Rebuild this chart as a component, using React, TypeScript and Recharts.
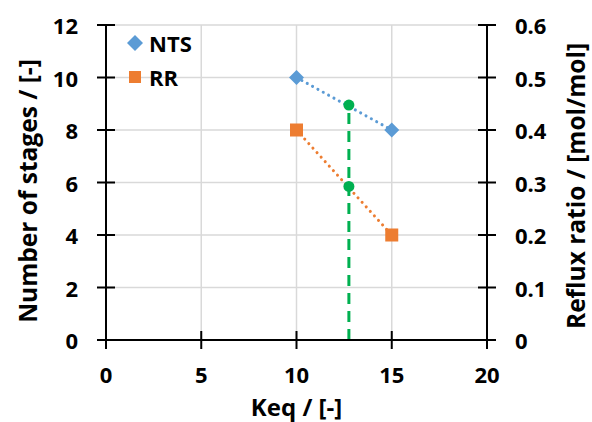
import React from 'react';
import { ComposedChart, Line, XAxis, YAxis, CartesianGrid, Legend } from 'recharts';

const keqNTS = [10, 15];
const ntsValues = [10, 8];
const keqRR = [10, 15];
const rrValues = [0.4, 0.2];
const keqOpt = [12.75, 12.75, 12.75];
const optValues = [0, 5.85, 8.95];
const optHasDot = [false, true, true];

const xTicks = [0, 5, 10, 15, 20];
const leftTicks = [0, 2, 4, 6, 8, 10, 12];
const rightTicks = [0, 0.1, 0.2, 0.3, 0.4, 0.5, 0.6];

const ntsData = keqNTS.map((k, i) => ({ keq: k, nts: ntsValues[i] }));
const rrData = keqRR.map((k, i) => ({ keq: k, rr: rrValues[i] }));
const optData = keqOpt.map((k, i) => ({ keq: k, opt: optValues[i], dot: optHasDot[i] }));

const FONT = '"Open Sans", Lato, sans-serif';
const FS = 22;
const TFS = 24.5;
const BFS = 24;
const TICK = 9;
const MARGIN = 19;

const LeftTick = (p: any) => {
  const ax = p.x + MARGIN + TICK;
  return (
    <g>
      <line x1={ax - TICK} x2={ax + TICK} y1={p.y} y2={p.y} stroke="#000" strokeWidth={2} />
      <text x={p.x} y={p.y} textAnchor="end" dominantBaseline="central" fontFamily={FONT} fontWeight="bold" fontSize={FS} fill="#000">
        {p.payload.value}
      </text>
    </g>
  );
};

const RightTick = (p: any) => {
  const ax = p.x - MARGIN - TICK;
  return (
    <g>
      <line x1={ax - TICK} x2={ax + TICK} y1={p.y} y2={p.y} stroke="#000" strokeWidth={2} />
      <text x={p.x} y={p.y} textAnchor="start" dominantBaseline="central" fontFamily={FONT} fontWeight="bold" fontSize={FS} fill="#000">
        {String(p.payload.value)}
      </text>
    </g>
  );
};

const BottomTick = (p: any) => {
  const ay = p.y - 12 - TICK;
  return (
    <g>
      <line x1={p.x} x2={p.x} y1={ay - TICK} y2={ay + TICK} stroke="#000" strokeWidth={2} />
      <text x={p.x} y={p.y + 22} textAnchor="middle" fontFamily={FONT} fontWeight="bold" fontSize={FS} fill="#000">
        {p.payload.value}
      </text>
    </g>
  );
};

const LeftTitle = (p: any) => {
  const vb = p.viewBox;
  const cx = 27;
  const cy = vb.y + vb.height / 2 + 8.5;
  return (
    <text x={cx} y={cy} transform={`rotate(-90 ${cx} ${cy})`} textAnchor="middle" dominantBaseline="central" fontFamily={FONT} fontWeight="bold" fontSize={TFS} fill="#000">
      Number of stages / [-]
    </text>
  );
};

const RightTitle = (p: any) => {
  const vb = p.viewBox;
  const cx = 575;
  const cy = vb.y + vb.height / 2 + 3.5;
  return (
    <text x={cx} y={cy} transform={`rotate(-90 ${cx} ${cy})`} textAnchor="middle" dominantBaseline="central" fontFamily={FONT} fontWeight="bold" fontSize={TFS} fill="#000">
      Reflux ratio / [mol/mol]
    </text>
  );
};

const BottomTitle = (p: any) => {
  const vb = p.viewBox;
  const cx = vb.x + vb.width / 2;
  return (
    <text x={cx} y={415.5} textAnchor="middle" fontFamily={FONT} fontWeight="bold" fontSize={BFS} fill="#000">
      Keq / [-]
    </text>
  );
};

const Diamond = (p: any) => {
  if (p.cx == null || p.cy == null) return null;
  const r = 7.5;
  return <polygon points={`${p.cx},${p.cy - r} ${p.cx + r},${p.cy} ${p.cx},${p.cy + r} ${p.cx - r},${p.cy}`} fill="#5B9BD5" />;
};

const Square = (p: any) => {
  if (p.cx == null || p.cy == null) return null;
  const s = 6.5;
  return <rect x={p.cx - s} y={p.cy - s} width={2 * s} height={2 * s} fill="#ED7D31" />;
};

const GreenDot = (p: any) => {
  if (p.cx == null || p.cy == null || !p.payload.dot) return <g key={p.key} />;
  return <circle cx={p.cx} cy={p.cy} r={5.5} fill="#00B050" />;
};

const LegendContent = () => (
  <div style={{ fontFamily: FONT, fontWeight: 'bold', fontSize: FS, color: '#000', lineHeight: '34px' }}>
    <div style={{ display: 'flex', alignItems: 'center' }}>
      <svg width={22} height={20}>
        <polygon points="8,2 16,10 8,18 0,10" fill="#5B9BD5" />
      </svg>
      <span>NTS</span>
    </div>
    <div style={{ display: 'flex', alignItems: 'center' }}>
      <svg width={22} height={20}>
        <rect x={2} y={4} width={12} height={12} fill="#ED7D31" />
      </svg>
      <span>RR</span>
    </div>
  </div>
);

export default function App() {
  return (
    <div style={{ position: 'absolute', left: 0, top: 0, width: 592, height: 422, background: '#fff' }}>
      <ComposedChart width={592} height={422} margin={{ top: 25, right: 0, bottom: 0, left: 0 }}>
        <CartesianGrid yAxisId="left" stroke="#d9d9d9" strokeWidth={1.5} />
        <XAxis
          type="number"
          dataKey="keq"
          domain={[0, 20]}
          ticks={xTicks}
          height={82}
          axisLine={{ stroke: '#000', strokeWidth: 2 }}
          tickLine={false}
          tickSize={TICK}
          tickMargin={12}
          tick={<BottomTick />}
          interval={0}
          label={<BottomTitle />}
          allowDuplicatedCategory={false}
        />
        <YAxis
          yAxisId="left"
          orientation="left"
          domain={[0, 12]}
          ticks={leftTicks}
          width={106}
          axisLine={{ stroke: '#000', strokeWidth: 2 }}
          tickLine={false}
          tickSize={TICK}
          tickMargin={MARGIN}
          tick={<LeftTick />}
          interval={0}
          label={<LeftTitle />}
        />
        <YAxis
          yAxisId="right"
          orientation="right"
          domain={[0, 0.6]}
          ticks={rightTicks}
          width={105}
          axisLine={{ stroke: '#000', strokeWidth: 2 }}
          tickLine={false}
          tickSize={TICK}
          tickMargin={MARGIN}
          tick={<RightTick />}
          interval={0}
          label={<RightTitle />}
        />
        <Legend
          layout="vertical"
          align="center"
          verticalAlign="middle"
          content={<LegendContent />}
          wrapperStyle={{ position: 'absolute', left: 127, top: 26, width: 100, height: 70 }}
        />
        <Line
          yAxisId="left"
          data={ntsData}
          dataKey="nts"
          name="NTS"
          stroke="#5B9BD5"
          strokeWidth={3}
          strokeDasharray="0.1 6"
          strokeLinecap="round"
          dot={<Diamond />}
          isAnimationActive={false}
        />
        <Line
          yAxisId="right"
          data={rrData}
          dataKey="rr"
          name="RR"
          stroke="#ED7D31"
          strokeWidth={3}
          strokeDasharray="0.1 6"
          strokeLinecap="round"
          dot={<Square />}
          isAnimationActive={false}
        />
        <Line
          yAxisId="left"
          data={optData}
          dataKey="opt"
          name="opt"
          legendType="none"
          stroke="#00B050"
          strokeWidth={3}
          strokeDasharray="11 7"
          dot={<GreenDot />}
          isAnimationActive={false}
        />
      </ComposedChart>
    </div>
  );
}
